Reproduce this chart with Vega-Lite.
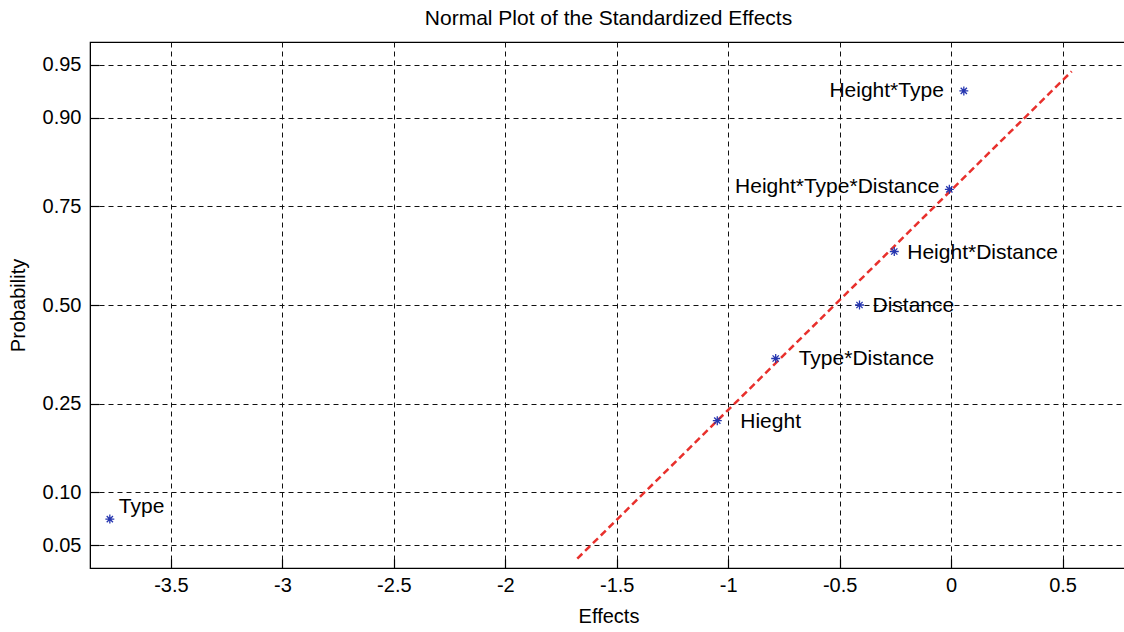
{
  "$schema": "https://vega.github.io/schema/vega-lite/v6.json",
  "width": 1037,
  "height": 526,
  "autosize": {"type": "none"},
  "padding": {"left": 90, "top": 42, "right": 0, "bottom": 64},
  "background": "white",
  "title": {
    "text": "Normal Plot of the Standardized Effects",
    "font": "Liberation Sans",
    "fontSize": 21,
    "fontWeight": "normal",
    "color": "#000000",
    "offset": 13
  },
  "config": {
    "view": {"stroke": "#000000", "strokeWidth": 1.2},
    "axis": {
      "labelFont": "Liberation Sans",
      "titleFont": "Liberation Sans",
      "labelFontSize": 20,
      "titleFontSize": 20,
      "titleFontWeight": "normal",
      "labelColor": "#000000",
      "titleColor": "#000000",
      "domainColor": "#000000",
      "tickColor": "#000000",
      "gridColor": "#111111",
      "gridOpacity": 1,
      "gridDash": [5, 4],
      "gridWidth": 1,
      "tickSize": -9,
      "tickWidth": 1.2
    }
  },
  "datasets": {
    "effects": [
      {"effect": "Type", "value": -3.774, "quantile": -1.4652},
      {"effect": "Hieght", "value": -1.049, "quantile": -0.7916},
      {"effect": "Type*Distance", "value": -0.787, "quantile": -0.3661},
      {"effect": "Distance", "value": -0.411, "quantile": 0},
      {"effect": "Height*Distance", "value": -0.255, "quantile": 0.3661},
      {"effect": "Height*Type*Distance", "value": -0.008, "quantile": 0.7916},
      {"effect": "Height*Type", "value": 0.057, "quantile": 1.4652}
    ],
    "refline": [
      {"value": -1.677, "quantile": -1.736},
      {"value": 0.541, "quantile": 1.599}
    ]
  },
  "layer": [
    {
      "data": {"name": "refline"},
      "mark": {"type": "line", "color": "#e8302c", "strokeWidth": 2.5, "strokeDash": [7, 4], "clip": true},
      "encoding": {
        "x": {
          "field": "value",
          "type": "quantitative",
          "title": "Effects",
          "scale": {"domain": [-3.863, 0.789], "nice": false, "zero": false},
          "axis": {
            "values": [-3.5, -3, -2.5, -2, -1.5, -1, -0.5, 0, 0.5],
            "labelExpr": "'' + datum.value",
            "labelPadding": 16,
            "titlePadding": 11
          }
        },
        "y": {
          "field": "quantile",
          "type": "quantitative",
          "title": "Probability",
          "scale": {"domain": [-1.8, 1.8], "nice": false, "zero": false},
          "axis": {
            "values": [-1.6449, -1.2816, -0.6745, 0, 0.6745, 1.2816, 1.6449],
            "labelExpr": "datum.value < -1.5 ? '0.05' : datum.value < -1 ? '0.10' : datum.value < -0.5 ? '0.25' : datum.value < 0.5 ? '0.50' : datum.value < 1 ? '0.75' : datum.value < 1.5 ? '0.90' : '0.95'",
            "labelPadding": 18,
            "titlePadding": 14
          }
        }
      }
    },
    {
      "data": {"name": "effects"},
      "mark": {
        "type": "point",
        "shape": "M-1,0L1,0M0,-1L0,1M-0.7,-0.7L0.7,0.7M-0.7,0.7L0.7,-0.7",
        "filled": false,
        "color": "#2636b0",
        "strokeWidth": 1.3,
        "size": 80,
        "opacity": 1
      },
      "encoding": {
        "x": {"field": "value", "type": "quantitative"},
        "y": {"field": "quantile", "type": "quantitative"}
      }
    },
    {
      "data": {"name": "effects"},
      "transform": [{"filter": {"field": "effect", "oneOf": ["Hieght", "Type*Distance"]}}],
      "mark": {"type": "text", "align": "left", "baseline": "middle", "dx": 23, "dy": 1, "font": "Liberation Sans", "fontSize": 21, "color": "#000000"},
      "encoding": {
        "x": {"field": "value", "type": "quantitative"},
        "y": {"field": "quantile", "type": "quantitative"},
        "text": {"field": "effect"}
      }
    },
    {
      "data": {"name": "effects"},
      "transform": [{"filter": {"field": "effect", "oneOf": ["Distance", "Height*Distance"]}}],
      "mark": {"type": "text", "align": "left", "baseline": "middle", "dx": 13, "dy": 1, "font": "Liberation Sans", "fontSize": 21, "color": "#000000"},
      "encoding": {
        "x": {"field": "value", "type": "quantitative"},
        "y": {"field": "quantile", "type": "quantitative"},
        "text": {"field": "effect"}
      }
    },
    {
      "data": {"name": "effects"},
      "transform": [{"filter": {"field": "effect", "oneOf": ["Height*Type"]}}],
      "mark": {"type": "text", "align": "right", "baseline": "middle", "dx": -20, "dy": 0, "font": "Liberation Sans", "fontSize": 21, "color": "#000000"},
      "encoding": {
        "x": {"field": "value", "type": "quantitative"},
        "y": {"field": "quantile", "type": "quantitative"},
        "text": {"field": "effect"}
      }
    },
    {
      "data": {"name": "effects"},
      "transform": [{"filter": {"field": "effect", "oneOf": ["Height*Type*Distance"]}}],
      "mark": {"type": "text", "align": "right", "baseline": "middle", "dx": -10, "dy": -2, "font": "Liberation Sans", "fontSize": 21, "color": "#000000"},
      "encoding": {
        "x": {"field": "value", "type": "quantitative"},
        "y": {"field": "quantile", "type": "quantitative"},
        "text": {"field": "effect"}
      }
    },
    {
      "data": {"name": "effects"},
      "transform": [{"filter": {"field": "effect", "oneOf": ["Type"]}}],
      "mark": {"type": "text", "align": "left", "baseline": "middle", "dx": 9, "dy": -12, "font": "Liberation Sans", "fontSize": 21, "color": "#000000"},
      "encoding": {
        "x": {"field": "value", "type": "quantitative"},
        "y": {"field": "quantile", "type": "quantitative"},
        "text": {"field": "effect"}
      }
    }
  ]
}
